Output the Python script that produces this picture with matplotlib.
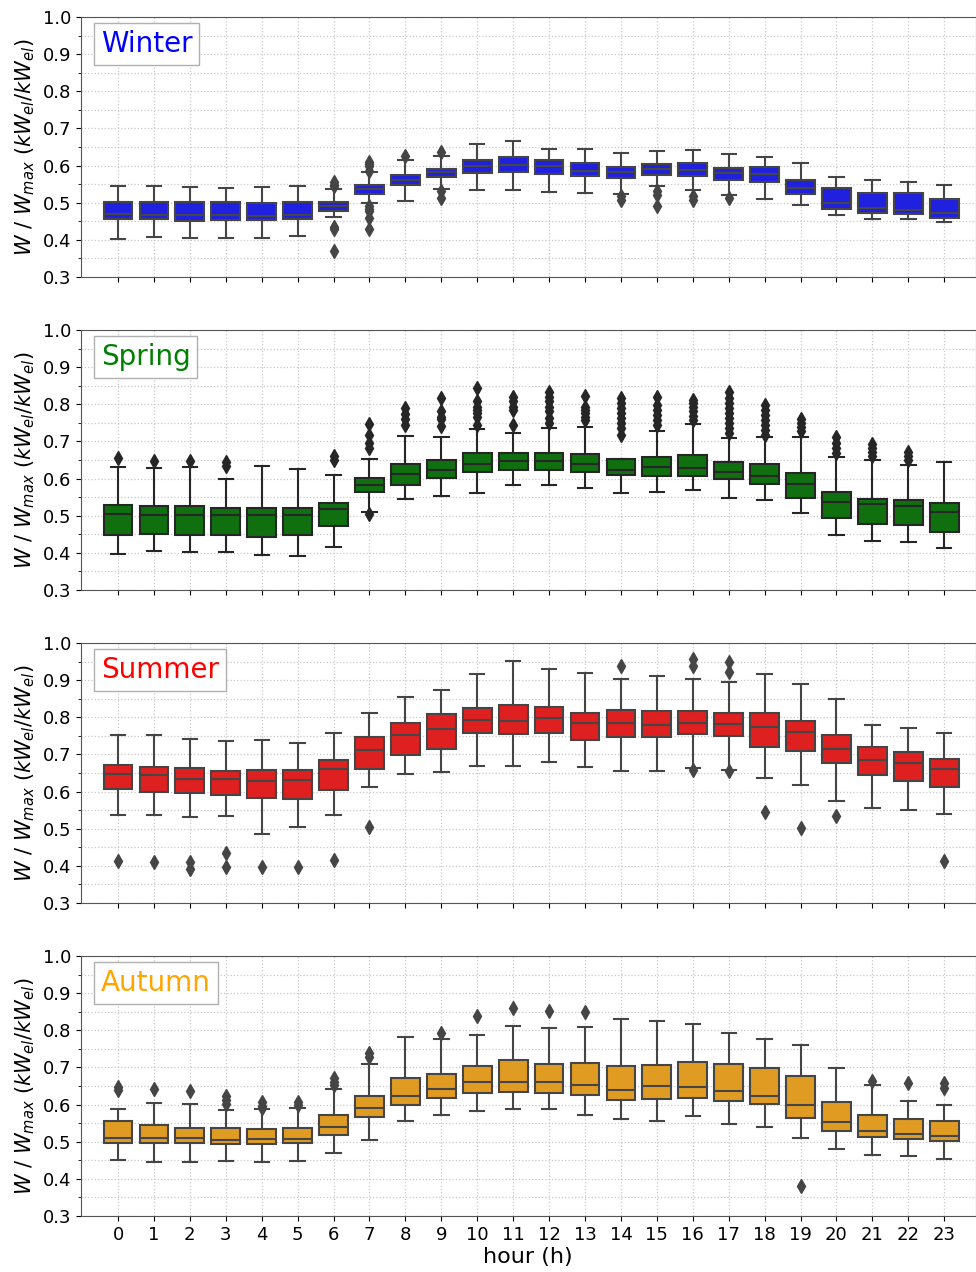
import matplotlib
matplotlib.use("Agg")
import matplotlib.pyplot as plt
from matplotlib.ticker import MultipleLocator

hours = list(range(24))
seasons = ["Winter", "Spring", "Summer", "Autumn"]
colors = ["#2020df", "#107010", "#df2020", "#e09c22"]
textColors = ["blue", "green", "red", "orange"]
edgeColors = ["#454545", "#262626", "#454545", "#454545"]

# winter
winterLo = [0.402, 0.407, 0.406, 0.406, 0.406, 0.410, 0.462, 0.498, 0.506, 0.538, 0.534, 0.535,
            0.529, 0.526, 0.523, 0.546, 0.535, 0.522, 0.511, 0.493, 0.466, 0.456, 0.457, 0.448]
winterQ1 = [0.455, 0.455, 0.452, 0.454, 0.454, 0.455, 0.478, 0.524, 0.547, 0.569, 0.579, 0.583,
            0.578, 0.571, 0.566, 0.574, 0.571, 0.562, 0.557, 0.523, 0.483, 0.472, 0.469, 0.459]
winterMed = [0.470, 0.466, 0.466, 0.466, 0.465, 0.466, 0.492, 0.537, 0.560, 0.582, 0.600, 0.602,
             0.598, 0.586, 0.583, 0.591, 0.587, 0.580, 0.577, 0.540, 0.499, 0.486, 0.481, 0.473]
winterQ3 = [0.502, 0.503, 0.501, 0.501, 0.498, 0.501, 0.502, 0.548, 0.575, 0.592, 0.616, 0.622,
            0.614, 0.606, 0.597, 0.605, 0.608, 0.594, 0.597, 0.561, 0.540, 0.525, 0.525, 0.510]
winterHi = [0.546, 0.546, 0.543, 0.541, 0.543, 0.544, 0.538, 0.582, 0.616, 0.627, 0.657, 0.666,
            0.646, 0.646, 0.634, 0.640, 0.642, 0.632, 0.623, 0.607, 0.569, 0.561, 0.555, 0.547]
winterOut = [[], [], [], [], [], [],
             [0.555, 0.548, 0.545, 0.435, 0.430, 0.369],
             [0.611, 0.605, 0.598, 0.585, 0.490, 0.483, 0.477, 0.459, 0.428],
             [0.625], [0.636, 0.531, 0.513], [], [],
             [], [], [0.517, 0.508], [0.531, 0.522, 0.490], [0.517, 0.507], [0.513],
             [], [], [], [], [], []]

# spring
springLo = [0.397, 0.405, 0.403, 0.403, 0.394, 0.391, 0.416, 0.509, 0.545, 0.554, 0.562, 0.584,
            0.582, 0.575, 0.562, 0.564, 0.568, 0.547, 0.543, 0.508, 0.449, 0.432, 0.430, 0.412]
springQ1 = [0.449, 0.450, 0.449, 0.447, 0.444, 0.447, 0.472, 0.563, 0.584, 0.601, 0.619, 0.624,
            0.624, 0.617, 0.611, 0.608, 0.606, 0.600, 0.585, 0.549, 0.495, 0.477, 0.475, 0.457]
springMed = [0.505, 0.502, 0.502, 0.502, 0.502, 0.501, 0.517, 0.584, 0.612, 0.622, 0.639, 0.647,
             0.647, 0.638, 0.624, 0.631, 0.628, 0.619, 0.606, 0.585, 0.536, 0.531, 0.525, 0.510]
springQ3 = [0.529, 0.525, 0.525, 0.521, 0.521, 0.521, 0.534, 0.601, 0.638, 0.651, 0.669, 0.669,
            0.669, 0.667, 0.653, 0.658, 0.663, 0.645, 0.640, 0.616, 0.565, 0.546, 0.543, 0.534]
springHi = [0.632, 0.629, 0.632, 0.600, 0.633, 0.627, 0.611, 0.654, 0.715, 0.712, 0.733, 0.724,
            0.736, 0.740, 0.653, 0.727, 0.747, 0.709, 0.712, 0.713, 0.659, 0.650, 0.637, 0.645]
springOut = [[0.655], [0.648], [0.648], [0.644, 0.635], [], [], [0.660, 0.649],
             [0.747, 0.718, 0.696, 0.682, 0.505],
             [0.791, 0.773, 0.760, 0.745],
             [0.816, 0.783, 0.767, 0.760, 0.742],
             [0.843, 0.808, 0.794, 0.785, 0.776, 0.767, 0.745],
             [0.821, 0.808, 0.794, 0.785, 0.745],
             [0.834, 0.821, 0.808, 0.794, 0.781, 0.763, 0.749],
             [0.823, 0.794, 0.785, 0.776, 0.767, 0.758],
             [0.816, 0.803, 0.790, 0.776, 0.763, 0.749, 0.736, 0.718],
             [0.819, 0.799, 0.785, 0.772, 0.758, 0.745],
             [0.812, 0.803, 0.792, 0.781, 0.769, 0.758],
             [0.834, 0.816, 0.803, 0.790, 0.776, 0.763, 0.749, 0.736, 0.722],
             [0.799, 0.785, 0.772, 0.758, 0.745, 0.731, 0.718],
             [0.760, 0.749, 0.739, 0.727],
             [0.712, 0.696, 0.682, 0.669],
             [0.694, 0.682, 0.671, 0.660],
             [0.671, 0.660, 0.651], []]

# summer
summerLo = [0.536, 0.537, 0.532, 0.535, 0.487, 0.504, 0.538, 0.612, 0.648, 0.654, 0.669, 0.669,
            0.679, 0.666, 0.655, 0.655, 0.664, 0.659, 0.637, 0.617, 0.576, 0.557, 0.550, 0.539]
summerQ1 = [0.607, 0.600, 0.596, 0.590, 0.582, 0.579, 0.604, 0.661, 0.699, 0.716, 0.758, 0.754,
            0.757, 0.740, 0.747, 0.746, 0.754, 0.750, 0.721, 0.709, 0.678, 0.645, 0.628, 0.613]
summerMed = [0.648, 0.645, 0.635, 0.635, 0.629, 0.630, 0.662, 0.712, 0.752, 0.768, 0.792, 0.789,
             0.798, 0.786, 0.786, 0.780, 0.786, 0.782, 0.773, 0.761, 0.714, 0.684, 0.678, 0.661]
summerQ3 = [0.671, 0.665, 0.664, 0.656, 0.658, 0.658, 0.685, 0.746, 0.785, 0.808, 0.826, 0.832,
            0.829, 0.813, 0.820, 0.818, 0.817, 0.812, 0.813, 0.790, 0.752, 0.720, 0.707, 0.688]
summerHi = [0.752, 0.752, 0.741, 0.736, 0.740, 0.731, 0.758, 0.813, 0.856, 0.874, 0.916, 0.951,
            0.931, 0.920, 0.903, 0.912, 0.903, 0.896, 0.917, 0.889, 0.849, 0.779, 0.770, 0.758]
summerOut = [[0.412], [0.411], [0.411, 0.392], [0.435, 0.396], [0.396], [0.396], [0.417],
             [0.504], [], [], [], [],
             [], [], [0.938], [], [0.957, 0.939, 0.658], [0.948, 0.921, 0.656],
             [0.544], [0.502], [0.534], [], [], [0.414]]

# autumn
autumnLo = [0.450, 0.446, 0.446, 0.448, 0.445, 0.448, 0.470, 0.504, 0.555, 0.572, 0.584, 0.589,
            0.589, 0.572, 0.562, 0.556, 0.570, 0.547, 0.539, 0.510, 0.480, 0.464, 0.462, 0.454]
autumnQ1 = [0.497, 0.496, 0.496, 0.495, 0.495, 0.496, 0.519, 0.567, 0.598, 0.617, 0.632, 0.633,
            0.632, 0.625, 0.613, 0.616, 0.618, 0.611, 0.601, 0.564, 0.528, 0.513, 0.508, 0.502]
autumnMed = [0.510, 0.510, 0.509, 0.505, 0.507, 0.507, 0.540, 0.592, 0.624, 0.641, 0.660, 0.661,
             0.662, 0.653, 0.640, 0.650, 0.647, 0.637, 0.624, 0.599, 0.552, 0.528, 0.521, 0.515]
autumnQ3 = [0.556, 0.546, 0.538, 0.538, 0.533, 0.536, 0.571, 0.624, 0.673, 0.682, 0.705, 0.720,
            0.709, 0.712, 0.705, 0.707, 0.716, 0.710, 0.698, 0.678, 0.608, 0.571, 0.562, 0.555]
autumnHi = [0.589, 0.605, 0.602, 0.586, 0.589, 0.592, 0.641, 0.709, 0.781, 0.776, 0.788, 0.812,
            0.806, 0.809, 0.831, 0.826, 0.817, 0.793, 0.776, 0.760, 0.699, 0.652, 0.611, 0.598]
autumnOut = [[0.648, 0.640], [0.642], [0.637], [0.622, 0.613, 0.601], [0.606, 0.597, 0.590],
             [0.608, 0.599], [0.671, 0.662, 0.653], [0.738, 0.729], [], [0.792], [0.838], [0.860],
             [0.852], [0.850], [], [], [], [], [], [0.382], [], [0.664], [0.657], [0.657, 0.646]]

allData = [
    (winterLo, winterQ1, winterMed, winterQ3, winterHi, winterOut),
    (springLo, springQ1, springMed, springQ3, springHi, springOut),
    (summerLo, summerQ1, summerMed, summerQ3, summerHi, summerOut),
    (autumnLo, autumnQ1, autumnMed, autumnQ3, autumnHi, autumnOut),
]

fig, axes = plt.subplots(4, 1, figsize=(9.76, 12.72), dpi=100, sharex=True)
fig.subplots_adjust(left=0.083, right=0.9995, top=0.9866, bottom=0.044, hspace=0.204)

for i, ax in enumerate(axes):
    lo, q1, med, q3, hi, out = allData[i]
    stats = []
    for h in hours:
        stats.append({"whislo": lo[h], "q1": q1[h], "med": med[h], "q3": q3[h],
                      "whishi": hi[h], "fliers": out[h]})
    ec = edgeColors[i]
    ax.bxp(stats, positions=hours, widths=0.8, patch_artist=True,
           boxprops=dict(facecolor=colors[i], edgecolor=ec, linewidth=1.5),
           medianprops=dict(color=ec, linewidth=1.5),
           whiskerprops=dict(color=ec, linewidth=1.5),
           capprops=dict(color=ec, linewidth=1.5),
           flierprops=dict(marker="d", markerfacecolor=ec, markeredgecolor=ec, markersize=7),
           capwidths=0.4)

    ax.set_xlim(-1.03, 23.87)
    ax.set_ylim(0.3, 1.0)
    ax.yaxis.set_major_locator(MultipleLocator(0.1))
    ax.yaxis.set_minor_locator(MultipleLocator(0.05))
    ax.grid(True, which="both", linestyle=":", color="#c8c8c8", linewidth=0.9)
    ax.set_axisbelow(True)
    ax.tick_params(axis="y", labelsize=13)
    ax.tick_params(axis="x", labelsize=13)
    for s in ax.spines.values():
        s.set_color("#555555")
    ax.set_ylabel(r"$W\ /\ W_{max}\ (kW_{el}/kW_{el})$", fontsize=15)
    ax.text(0.022, 0.895, seasons[i], transform=ax.transAxes, fontsize=20,
            color=textColors[i], va="center", ha="left",
            bbox=dict(facecolor="white", edgecolor="#b0b0b0", boxstyle="square,pad=0.25"))

axes[-1].set_xticks(hours)
axes[-1].set_xticklabels([str(h) for h in hours])
axes[-1].set_xlabel("hour (h)", fontsize=16, labelpad=2)

fig.savefig("out.png", dpi=100)
